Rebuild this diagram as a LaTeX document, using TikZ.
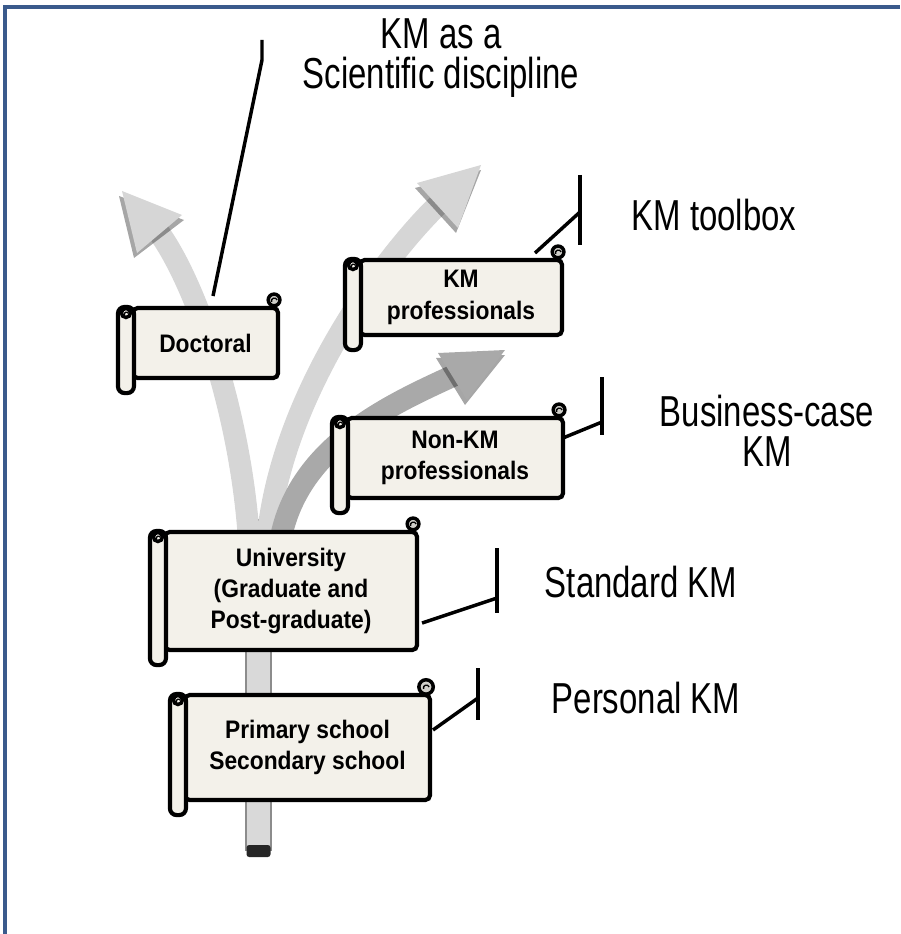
\documentclass[tikz,border=0pt]{standalone}
\usepackage{fontspec}
\setmainfont{Liberation Sans}
\newfontfamily\labelfont[FakeStretch=0.76]{Liberation Sans}
\newfontfamily\boxfont[FakeStretch=0.9]{Liberation Sans}
\usetikzlibrary{calc}
\definecolor{ivory}{HTML}{F3F1EA}
\definecolor{frameblue}{HTML}{3A5A8C}
\definecolor{lightarrow}{HTML}{D6D6D6}
\definecolor{darkarrow}{HTML}{A9A9A9}
\definecolor{stemfill}{HTML}{D9D9D9}
\definecolor{stemedge}{HTML}{8C8C8C}
\tikzset{
  scrollbody/.style={draw=black, line width=3.1pt, fill=ivory, rounded corners=3.5pt, align=center,
    font=\boxfont\bfseries\fontsize{19}{23.5}\selectfont, inner sep=0pt},
  scrollroll/.style={draw=black, line width=3.1pt, fill=ivory, rounded corners=5pt},
  curl/.style={draw=black, line width=2.6pt, fill=ivory},
  curlin/.style={draw=black, line width=1pt},
  callout/.style={draw=black, line width=2.6pt},
  kmlabel/.style={font=\labelfont\fontsize{32.5}{30}\selectfont, align=center, inner sep=0pt},
  shaftlight/.style={draw=lightarrow, line width=16.5pt},
  shaftdark/.style={draw=darkarrow, line width=16.5pt},
  headshadow/.style={fill=black, opacity=0.35},
}
\newcommand{\scrolldeco}[2]{%
  \draw[scrollroll] ($(#1.north west)+(-13,1)$) rectangle ($(#1.south west)+(3,13)$);
  \draw[curl] ($(#1.north west)+(-5,7)$) circle (3.4pt);
  \draw[curlin] ($(#1.north west)+(-6.5,9)$) arc[start angle=200, end angle=20, radius=1.6pt];
  \draw[curl, fill=ivory!70!gray] ($(#1.north east)+(-6,-6)$) circle (#2);
  \draw[curlin] ($(#1.north east)+(-8.5,-4)$) arc[start angle=200, end angle=20, radius=2.2pt];
}
\begin{document}
\begin{tikzpicture}[x=0.75pt,y=-0.75pt]
\useasboundingbox (0,0) rectangle (900,934);
% frame
\draw[frameblue, line width=2.6pt] (5,934) -- (5,7) -- (900,7);
% stem
\draw[fill=stemfill, draw=stemedge, line width=1.6pt] (246,520) rectangle (271,850);
\fill[black!85, rounded corners=2pt] (246.5,845) rectangle (270.5,857);
% shafts
\draw[shaftlight] (250,560) .. controls (245,420) and (195,280) .. (157,230);
\draw[shaftlight] (266,560) .. controls (272,400) and (390,250) .. (441,202);
\draw[shaftdark] (278,560) .. controls (285,450) and (390,405) .. (457,374);
% heads with shadow
\fill[headshadow] (119,196) -- (184,220) -- (134,258) -- cycle;
\fill[lightarrow] (122,191) -- (182,215) -- (137,253) -- cycle;
\fill[headshadow] (481,170) -- (415,188) -- (456,233) -- cycle;
\fill[lightarrow] (481,165) -- (417,183) -- (458,228) -- cycle;
\fill[headshadow] (505,355) -- (436,358) -- (465,405) -- cycle;
\fill[darkarrow] (505,350) -- (438,353) -- (467,400) -- cycle;
% scroll boxes
\node[scrollbody, minimum width={145*0.75pt}, minimum height={70*0.75pt}] (doc) at (205.5,343) {Doctoral};
\scrolldeco{doc}{4.4pt}
\node[scrollbody, minimum width={202*0.75pt}, minimum height={75*0.75pt}] (kmp) at (461,297.5) {KM\\professionals};
\scrolldeco{kmp}{4.4pt}
\node[scrollbody, minimum width={216*0.75pt}, minimum height={80*0.75pt}] (nkm) at (455,458) {Non-KM\\professionals};
\scrolldeco{nkm}{4.4pt}
\node[scrollbody, minimum width={252*0.75pt}, minimum height={118*0.75pt}] (uni) at (291,591) {University\\(Graduate and\\Post-graduate)};
\scrolldeco{uni}{4.4pt}
\node[scrollbody, minimum width={245*0.75pt}, minimum height={105*0.75pt}] (pri) at (307.5,747.5) {Primary school\\Secondary school};
\scrolldeco{pri}{5.4pt}
% labels
\node[kmlabel] (sci) at (441,58) {KM as a\\Scientific discipline};
\node[kmlabel] (tool) at (714,215) {KM toolbox};
\node[kmlabel] (biz) at (767,431) {Business-case\\KM};
\node[kmlabel] (std) at (641,582) {Standard KM};
\node[kmlabel] (pers) at (646,698) {Personal KM};
% callout coordinates
\coordinate (docA) at (213,296); \coordinate (docB) at (262,60);
\coordinate (docT) at (262,40);
\coordinate (kmpA) at (535,253); \coordinate (kmpB) at (580,212);
\coordinate (kmpT) at (580,175); \coordinate (kmpD) at (580,245);
\coordinate (nkmA) at (563,438); \coordinate (nkmB) at (602,422);
\coordinate (nkmT) at (602,377); \coordinate (nkmD) at (602,435);
\coordinate (uniA) at (422,623); \coordinate (uniB) at (497,598);
\coordinate (uniT) at (497,548); \coordinate (uniD) at (497,613);
\coordinate (priA) at (433,730); \coordinate (priB) at (478,698);
\coordinate (priT) at (478,668); \coordinate (priD) at (478,720);
% callouts
\draw[callout] (docA) -- (docB) -- (docT);
\draw[callout] (kmpA) -- (kmpB); \draw[callout] (kmpT) -- (kmpD);
\draw[callout] (nkmA) -- (nkmB); \draw[callout] (nkmT) -- (nkmD);
\draw[callout] (uniA) -- (uniB); \draw[callout] (uniT) -- (uniD);
\draw[callout] (priA) -- (priB); \draw[callout] (priT) -- (priD);
\end{tikzpicture}
\end{document}
